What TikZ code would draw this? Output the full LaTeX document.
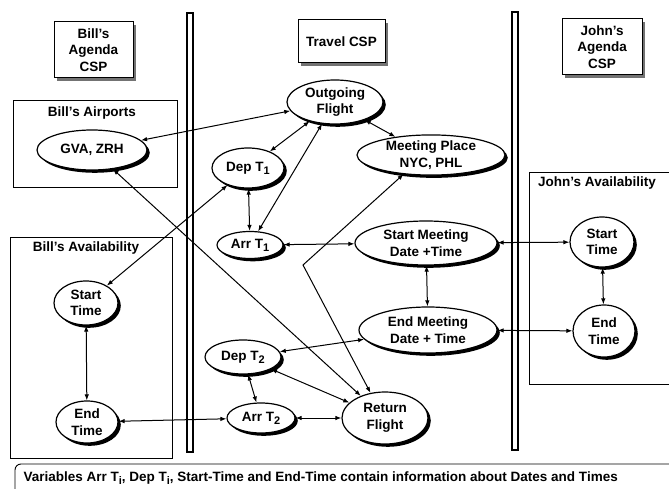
\documentclass[tikz,border=0pt]{standalone}
\usepackage{fontspec}
\setmainfont{Liberation Sans}
\usetikzlibrary{shapes.geometric,shadows,arrows.meta}
\newcommand{\tidx}[1]{\raisebox{-0.45ex}{\fontsize{11}{11}\selectfont #1}}

\begin{document}
\begin{tikzpicture}[x=1pt,y=-1pt,
  font=\fontsize{13.5}{16.5}\selectfont\bfseries,
  var/.style={ellipse, draw, line width=1.2pt, fill=white, inner sep=0pt, align=center,
    drop shadow={shadow xshift=2.8pt, shadow yshift=-2.8pt, fill=black, opacity=1}},
  title/.style={rectangle, draw, line width=1pt, fill=white, inner sep=0pt, align=center,
    drop shadow={shadow xshift=3pt, shadow yshift=-3pt, fill=black!55, opacity=1}},
  link/.style={{Latex[length=6pt,width=4.5pt]}-{Latex[length=6pt,width=4.5pt]}, line width=1pt},
  frame/.style={draw, line width=0.9pt},
  bar/.style={draw, line width=1.4pt, fill=white}]

  \useasboundingbox (0,0) rectangle (669,489);
  \clip (0,0) rectangle (669,489);

  % Frames round the agenda variables
  \draw[frame] (13,100) rectangle (177,187);
  \node (airlbl) at (92,113) {Bill's Airports};
  \draw[frame] (10,237) rectangle (172,458);
  \node (bavlbl) at (86,248) {Bill's Availability};
  \draw[frame] (529,172) rectangle (680,384);
  \node (javlbl) at (597,183) {John's Availability};

  % Note at the bottom
  \draw[frame, rounded corners=6pt] (680,464) -- (15,464) -- (15,500);
  \node[anchor=west] (note) at (20,478) {Variables Arr T\tidx{i}, Dep T\tidx{i}, Start-Time and End-Time contain information about Dates and Times};

  % Double bars between the three CSPs
  \draw[bar] (187,13) rectangle (193,452);
  \draw[bar] (512,12) rectangle (518,450);

  % Titles
  \node[title, minimum width=79pt, minimum height=56pt] (billcsp) at (93.5,50) {Bill's\\Agenda\\CSP};
  \node[title, minimum width=87pt, minimum height=43pt] (travcsp) at (341.5,41.5) {Travel CSP};
  \node[title, minimum width=80pt, minimum height=56pt] (johncsp) at (602,47) {John's\\Agenda\\CSP};

  % Variables
  \node[var, minimum width=110pt, minimum height=40pt] (gva) at (92,150) {GVA, ZRH};
  \node[var, minimum width=96pt, minimum height=44pt] (outflt) at (335,102) {Outgoing\\Flight};
  \node[var, minimum width=72pt, minimum height=40pt] (dep1) at (248,168) {Dep T\tidx{1}};
  \node[var, minimum width=148pt, minimum height=40pt] (place) at (431,155) {Meeting Place\\NYC, PHL};
  \node[var, minimum width=66pt, minimum height=27pt] (arr1) at (250,245) {Arr T\tidx{1}};
  \node[var, minimum width=142pt, minimum height=44pt] (smeet) at (426,243) {Start Meeting\\Date +Time};
  \node[var, minimum width=138pt, minimum height=46pt] (emeet) at (428,330) {End Meeting\\Date + Time};
  \node[var, minimum width=64pt, minimum height=50pt] (jstart) at (602,242) {Start\\Time};
  \node[var, minimum width=62pt, minimum height=52pt] (jend) at (604,331) {End\\Time};
  \node[var, minimum width=64pt, minimum height=44pt] (bstart) at (86,303) {Start\\Time};
  \node[var, minimum width=62pt, minimum height=42pt] (bend) at (87,422) {End\\Time};
  \node[var, minimum width=76pt, minimum height=34pt] (dep2) at (243,357) {Dep T\tidx{2}};
  \node[var, minimum width=68pt, minimum height=30pt] (arr2) at (261,418) {Arr T\tidx{2}};
  \node[var, minimum width=86pt, minimum height=52pt] (retflt) at (385,418) {Return\\Flight};

  % Constraints
  \draw[link] (outflt) -- (gva);
  \draw[link] (outflt) -- (dep1);
  \draw[link] (outflt) -- (arr1);
  \draw[link] (outflt.-31) -- (place.153);
  \draw[link] (dep1) -- (arr1);
  \draw[link] (dep1) -- (bstart);
  \draw[link] (gva) -- (retflt);
  \draw[link] (arr1) -- (smeet);
  \coordinate (kink) at (303,265);
  \draw[link] (place.-145) -- (kink) -- (retflt.120);
  \draw[link] (smeet) -- (emeet);
  \draw[link] (smeet) -- (jstart);
  \draw[link] (emeet) -- (jend);
  \draw[link] (jstart) -- (jend);
  \draw[link] (emeet) -- (dep2);
  \draw[link] (dep2) -- (retflt);
  \draw[link] (dep2) -- (arr2);
  \draw[link] (bend) -- (arr2);
  \draw[link] (arr2) -- (retflt);
  \draw[link] (bstart) -- (bend);
\end{tikzpicture}
\end{document}
